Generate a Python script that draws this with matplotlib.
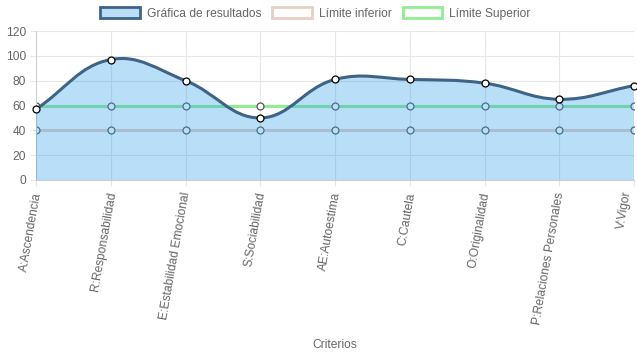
import numpy as np
import matplotlib.pyplot as plt
from matplotlib.path import Path
from matplotlib.patches import PathPatch, Patch

plt.rcParams['font.family'] = ['Liberation Sans', 'DejaVu Sans']

criterios = ['A:Ascendencia', 'R:Responsabilidad', 'E:Estabilidad Emocional',
             'S:Sociabilidad', 'AE:Autoestima', 'C:Cautela', 'O:Originalidad',
             'P:Relaciones Personales', 'V:Vigor']
resultados = [57, 97, 80, 50, 81, 81, 78, 65, 76]
limite_inferior = [40, 40, 40, 40, 40, 40, 40, 40, 40]
limite_superior = [60, 60, 60, 60, 60, 60, 60, 60, 60]

LINE = '#3f6386'
FILL = (54 / 255, 162 / 255, 235 / 255, 0.35)
INF = '#e8cfc4'
SUP = '#90ee90'
TXT = '#666666'
GRID = '#e6e6e6'
FS = 8.64


def spline_path(ax, xs, ys, t=0.4):
    # chart.js style cubic control points, computed in pixel space
    pts = ax.transData.transform(np.column_stack([xs, ys]))
    n = len(pts)
    prev_cp, next_cp = [], []
    for i in range(n):
        p0 = pts[max(i - 1, 0)]
        p1 = pts[i]
        p2 = pts[min(i + 1, n - 1)]
        d01 = np.hypot(*(p1 - p0))
        d12 = np.hypot(*(p2 - p1))
        s01 = d01 / (d01 + d12)
        s12 = d12 / (d01 + d12)
        prev_cp.append(p1 - t * s01 * (p2 - p0))
        next_cp.append(p1 + t * s12 * (p2 - p0))
    verts = [pts[0]]
    codes = [Path.MOVETO]
    for i in range(n - 1):
        verts += [next_cp[i], prev_cp[i + 1], pts[i + 1]]
        codes += [Path.CURVE4] * 3
    verts = ax.transData.inverted().transform(np.array(verts))
    return verts, codes


fig = plt.figure(figsize=(6.37, 3.59), dpi=100)
ax = fig.add_axes([36 / 637, 179 / 359, 598 / 637, 149 / 359])
x = np.arange(len(criterios))
ax.set_xlim(0, len(criterios) - 1)
ax.set_ylim(0, 120)
ax.set_yticks(range(0, 121, 20))
ax.set_xticks(x)
ax.set_xticklabels(criterios, rotation=80, ha='right', va='center_baseline',
                   rotation_mode='anchor')
ax.get_xticklabels()[-1].set_va('bottom')  # keep last label inside the canvas
ax.grid(True, color=GRID, lw=0.8, zorder=0)
ax.set_axisbelow(True)
for s in ['top', 'right']:
    ax.spines[s].set_visible(False)
for s in ['left', 'bottom']:
    ax.spines[s].set_color('#cfcfcf')
    ax.spines[s].set_linewidth(0.8)
ax.tick_params(axis='y', length=4.3, color=GRID, labelcolor=TXT,
               labelsize=FS, pad=3)
ax.tick_params(axis='x', length=4.3, color=GRID, labelcolor=TXT,
               labelsize=FS, pad=4.5)
ax.set_xlabel('Criterios', color=TXT, fontsize=FS)
ax.xaxis.set_label_coords(0.5, -1.07)

# limit lines (below the fill)
ax.plot(x, limite_inferior, color=INF, lw=2.2, zorder=2,
        marker='o', ms=5, mfc='white', mec='#555555', mew=0.9)
ax.plot(x, limite_superior, color=SUP, lw=2.2, zorder=2,
        marker='o', ms=5, mfc='white', mec='#555555', mew=0.9)

# results curve with fill
verts, codes = spline_path(ax, x, resultados)
curve = Path(verts, codes)
fill_verts = np.vstack([verts, [[x[-1], 0], [x[0], 0], verts[0]]])
fill_codes = codes + [Path.LINETO, Path.LINETO, Path.CLOSEPOLY]
ax.add_patch(PathPatch(Path(fill_verts, fill_codes), facecolor=FILL,
                       edgecolor='none', zorder=3))
ax.add_patch(PathPatch(curve, facecolor='none', edgecolor=LINE, lw=2.2,
                       zorder=4))
ax.plot(x, resultados, ls='none', marker='o', ms=5, mfc='white', mec='black',
        mew=0.9, zorder=5, clip_on=False)

handles = [Patch(facecolor='#b9dcf7', edgecolor=LINE, lw=2),
           Patch(facecolor='white', edgecolor=INF, lw=2),
           Patch(facecolor='white', edgecolor=SUP, lw=2)]
fig.legend(handles, ['Gráfica de resultados', 'Límite inferior', 'Límite Superior'],
           loc='upper center', bbox_to_anchor=(0.495, 1.01), ncol=3, frameon=False,
           fontsize=FS, labelcolor=TXT, handlelength=3.3, handleheight=1.0,
           handletextpad=0.6, columnspacing=0.9)

fig.savefig('out.png', dpi=100)
